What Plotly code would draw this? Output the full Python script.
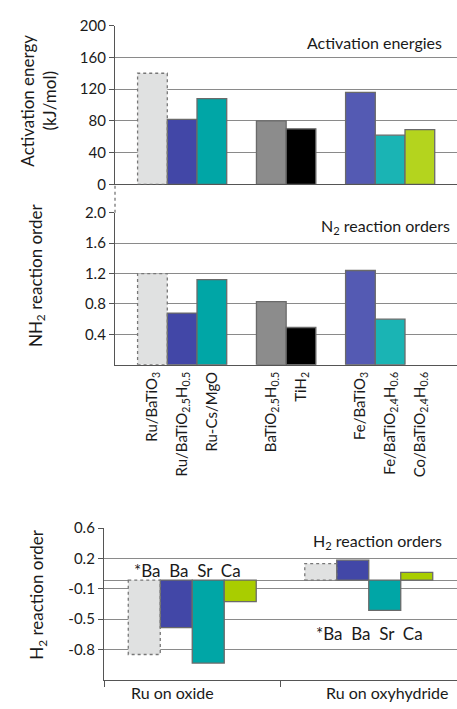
import plotly.graph_objects as go

# ---------------- data ----------------
catalysts = ["Ru/BaTiO<sub>3</sub>", "Ru/BaTiO<sub>2.5</sub>H<sub>0.5</sub>", "Ru-Cs/MgO",
             "BaTiO<sub>2.5</sub>H<sub>0.5</sub>", "TiH<sub>2</sub>",
             "Fe/BaTiO<sub>3</sub>", "Fe/BaTiO<sub>2.4</sub>H<sub>0.6</sub>", "Co/BaTiO<sub>2.4</sub>H<sub>0.6</sub>"]
group_sizes = [3, 2, 3]
activation_energy = [140, 82, 108, 80, 70, 116, 62, 69]
n2_order = [1.20, 0.68, 1.12, 0.83, 0.49, 1.24, 0.60, None]
cat_colors = ["#e0e1e1", "#4247a7", "#00a6a6", "#8c8c8c", "#000000", "#545ab3", "#1ab4b4", "#b4d41e"]
cat_dashed = [True, False, False, False, False, False, False, False]

h2_groups = ["Ru on oxide", "Ru on oxyhydride"]
h2_elements = ["*Ba", "Ba", "Sr", "Ca"]
h2_oxide = [-0.86, -0.55, -0.96, -0.25]
h2_oxyhydride = [0.19, 0.23, -0.35, 0.09]
h2_colors = ["#e0e1e1", "#4247a7", "#00a6a6", "#a9cd00"]
h2_dashed = [True, False, False, False]

ae_ticks = [0, 40, 80, 120, 160, 200]
n2_ticks = [0.4, 0.8, 1.2, 1.6, 2.0]
h2_tickvals = [0.6, 0.25, -0.1, -0.45, -0.8]
h2_ticktext = ["0.6", "0.2", "-0.1", "-0.5", "-0.8"]

# ---------------- layout helpers ----------------
W, H = 457, 709
FONT = "Lato"
TXT = "#1a1a1a"
GRID = "#8a8a8a"
AXIS = "#555555"
EDGE = "#6a6a6a"

def px_x(v):
    return v / W

def px_y(v):
    return 1 - v / H

# slot positions with one empty slot between groups
positions = []
p = 0
for s in group_sizes:
    for _ in range(s):
        positions.append(p)
        p += 1
    p += 1

fig = go.Figure()

line_w = [0 if d else 1.3 for d in cat_dashed]
fig.add_trace(go.Bar(x=positions, y=activation_energy, width=1,
                     marker=dict(color=cat_colors, line=dict(color=EDGE, width=line_w)),
                     xaxis="x", yaxis="y", showlegend=False))
fig.add_trace(go.Bar(x=positions, y=n2_order, width=1,
                     marker=dict(color=cat_colors, line=dict(color=EDGE, width=line_w)),
                     xaxis="x2", yaxis="y2", showlegend=False))

bargap3 = 0.275
for j, el in enumerate(h2_elements):
    fig.add_trace(go.Bar(x=h2_groups, y=[h2_oxide[j], h2_oxyhydride[j]], name=el,
                         marker=dict(color=h2_colors[j],
                                     line=dict(color=EDGE, width=0 if h2_dashed[j] else 1.3)),
                         xaxis="x3", yaxis="y3", showlegend=False))

shapes = []
# dotted outlines of the reference bars
for i, d in enumerate(cat_dashed):
    if d:
        shapes.append(dict(type="rect", xref="x", yref="y", x0=positions[i] - 0.5, x1=positions[i] + 0.5,
                           y0=0, y1=activation_energy[i], line=dict(color="#777777", width=1.3, dash="dot")))
        if n2_order[i] is not None:
            shapes.append(dict(type="rect", xref="x2", yref="y2", x0=positions[i] - 0.5, x1=positions[i] + 0.5,
                               y0=0, y1=n2_order[i], line=dict(color="#777777", width=1.3, dash="dot")))
bw = (1 - bargap3) / len(h2_elements)
for j, d in enumerate(h2_dashed):
    if d:
        for g, vals in enumerate([h2_oxide, h2_oxyhydride]):
            x0 = g - (1 - bargap3) / 2 + j * bw
            shapes.append(dict(type="rect", xref="x3", yref="y3", x0=x0, x1=x0 + bw,
                               y0=0, y1=vals[j], line=dict(color="#777777", width=1.3, dash="dot")))
# dotted connector between upper panels
shapes.append(dict(type="line", xref="paper", yref="paper", x0=px_x(115), x1=px_x(115),
                   y0=px_y(208), y1=px_y(179), line=dict(color="#777777", width=1.3, dash="dot")))

tickfont = dict(family=FONT, size=15, color=TXT)
common_y = dict(showline=True, linecolor=AXIS, linewidth=1.3, ticks="outside", ticklen=5,
                tickcolor=AXIS, showgrid=True, gridcolor=GRID, gridwidth=1.3,
                tickfont=tickfont)

fig.update_layout(
    width=W, height=H, margin=dict(l=0, r=0, t=0, b=0),
    paper_bgcolor="white", plot_bgcolor="white",
    barmode="group", bargap=bargap3, bargroupgap=0,
    font=dict(family=FONT, color=TXT),
    xaxis=dict(domain=[px_x(115), 1], range=[-1.26, 10.25], showticklabels=False, showgrid=False,
               showline=True, linecolor=AXIS, linewidth=1.3, zeroline=False, anchor="y"),
    yaxis=dict(domain=[px_y(179), px_y(16)], range=[0, 200], tickvals=ae_ticks, anchor="x",
               zeroline=False, **common_y),
    xaxis2=dict(domain=[px_x(115), 1], range=[-1.26, 10.25], tickvals=positions, ticktext=catalysts,
                tickangle=-90, tickfont=tickfont, showgrid=False, ticks="",
                showline=True, linecolor=AXIS, linewidth=1.3, zeroline=False, anchor="y2"),
    yaxis2=dict(domain=[px_y(364), px_y(208)], range=[0, 2.0], tickvals=n2_ticks,
                ticktext=[f"{v:.1f}" for v in n2_ticks], anchor="x2", zeroline=False, **common_y),
    xaxis3=dict(domain=[px_x(104), 1], showticklabels=False, showgrid=False, ticks="outside",
                tickson="boundaries", ticklen=6, tickcolor=AXIS,
                showline=True, linecolor=AXIS, linewidth=1.3, zeroline=False, anchor="y3"),
    yaxis3=dict(domain=[px_y(687), px_y(531.7)], range=[-1.15, 0.6], tickvals=h2_tickvals,
                ticktext=h2_ticktext, anchor="x3", zeroline=True, zerolinecolor=GRID,
                zerolinewidth=1.3, **common_y),
    shapes=shapes,
)

ann_font = dict(family=FONT, size=16, color=TXT)
lab_font = dict(family=FONT, size=17, color=TXT)
title_font = dict(family=FONT, size=17, color=TXT)
annotations = [
    dict(text="Activation energies", x=px_x(444), y=px_y(33), xanchor="right", yanchor="middle", font=ann_font),
    dict(text="N<sub>2</sub> reaction orders", x=px_x(452), y=px_y(222), xanchor="right", yanchor="middle", font=ann_font),
    dict(text="H<sub>2</sub> reaction orders", x=px_x(444), y=px_y(545), xanchor="right", yanchor="middle", font=ann_font),
    dict(text="  ".join(h2_elements), x=px_x(132), y=px_y(575), xanchor="left", yanchor="middle", font=lab_font),
    dict(text="  ".join(h2_elements), x=px_x(314), y=px_y(640), xanchor="left", yanchor="middle", font=lab_font),
    dict(text=h2_groups[0], x=px_x(172), y=px_y(700), xanchor="center", yanchor="middle", font=ann_font),
    dict(text=h2_groups[1], x=px_x(387), y=px_y(700), xanchor="center", yanchor="middle", font=ann_font),
    dict(text="Activation energy<br>(kJ/mol)", x=px_x(39), y=px_y(93), textangle=-90,
         xanchor="center", yanchor="middle", font=title_font),
    dict(text="NH<sub>2</sub> reaction order", x=px_x(37), y=px_y(272), textangle=-90,
         xanchor="center", yanchor="middle", font=title_font),
    dict(text="H<sub>2</sub> reaction order", x=px_x(38), y=px_y(600), textangle=-90,
         xanchor="center", yanchor="middle", font=title_font),
]
for a in annotations:
    a.update(xref="paper", yref="paper", showarrow=False)
fig.update_layout(annotations=annotations)

fig.write_html("out.html", config={"displayModeBar": False},
               post_script="document.body.style.margin='0';document.body.style.overflow='hidden';")
